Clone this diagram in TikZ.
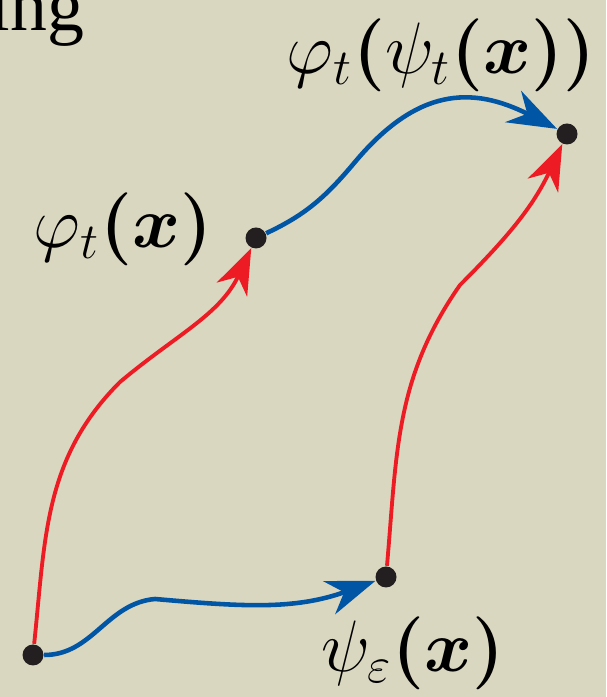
\documentclass[tikz,border=0pt]{standalone}
\usepackage{amsmath,amssymb,bm}
\usepackage{fontspec}
\usepackage{xcolor}
\usepackage{tikz}
\usetikzlibrary{calc,arrows.meta}
\newfontfamily\titlefont{Liberation Serif}
\definecolor{paper}{HTML}{DAD7C1}
\definecolor{mapred}{HTML}{ED1C24}
\definecolor{mapblue}{HTML}{0055A5}
\definecolor{dotblack}{HTML}{231F20}

\begin{document}
\begin{tikzpicture}[
  mapdot/.style={circle,fill=dotblack,inner sep=0pt,minimum size=0.21cm},
  flowred/.style={draw=mapred,line width=1.1pt,-{Stealth[length=13pt,width=9.5pt,inset=4pt]}},
  flowblue/.style={draw=mapblue,line width=1.3pt,-{Stealth[length=14pt,width=10pt,inset=4.5pt]}},
  maplabel/.style={inner sep=0pt,font=\fontsize{20.5}{24}\selectfont}]
\useasboundingbox (0,0) rectangle (6.06,6.97);
\fill[paper] (0,0) rectangle (6.06,6.97);
\clip (0,0) rectangle (6.06,6.97);
\node[anchor=base east,inner sep=0pt,font=\titlefont\fontsize{21}{24}\selectfont] (title) at (0.85,6.66) {ing};
% points
\node[mapdot] (x) at (0.33,0.42) {};
\node[mapdot] (psix) at (3.86,1.20) {};
\node[mapdot] (phix) at (2.56,4.59) {};
\node[mapdot] (phipsix) at (5.67,5.63) {};
\node[maplabel] (lx) at (4.13,0.44) {$\psi_\varepsilon\bm{(x)}$};
\node[maplabel] (lphix) at (1.23,4.68) {$\varphi_t\bm{(x)}$};
\node[maplabel] (lphipsix) at (4.41,6.42) {$\varphi_t\bm{(}\psi_t\bm{(x))}$};
% bends
\coordinate (b1) at (1.55,0.98);
\coordinate (b2) at (1.20,3.15);
\coordinate (b3) at (4.60,4.12);
\coordinate (b4) at (3.55,5.35);
% flows
\draw[flowblue] (x) to[out=0,in=185] (b1) to[out=-5,in=200] (psix);
\draw[flowred] (x) to[out=84,in=225] (b2) to[out=40,in=245] (phix);
\draw[flowred] (psix) to[out=85,in=235] (b3) to[out=45,in=245] (phipsix);
\draw[flowblue] (phix) to[out=25,in=230] (b4) to[out=50,in=153,looseness=1.2] (phipsix);
\end{tikzpicture}
\end{document}
